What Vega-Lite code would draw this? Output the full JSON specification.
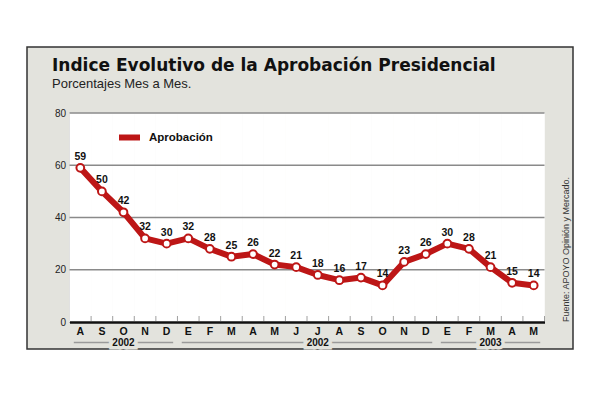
{
  "$schema": "https://vega.github.io/schema/vega-lite/v6.json",
  "width": 546,
  "height": 302,
  "autosize": {"type": "none"},
  "padding": {"left": 27, "top": 47, "right": 27, "bottom": 50},
  "background": "white",
  "config": {
    "view": {"fill": "#e3e3dd", "stroke": "#333333", "strokeWidth": 1.5}
  },
  "title": {
    "text": "Indice Evolutivo de la Aprobación Presidencial",
    "subtitle": "Porcentajes Mes a Mes.",
    "anchor": "start",
    "frame": "group",
    "offset": -45,
    "dx": 25,
    "font": "DejaVu Sans",
    "fontSize": 17,
    "fontWeight": "bold",
    "color": "#111111",
    "subtitleFont": "Liberation Sans",
    "subtitleFontSize": 13,
    "subtitleColor": "#222222",
    "subtitlePadding": 3
  },
  "datasets": {
    "aprobacion": [
      {"periodo": "2001-08", "valor": 59, "serie": "Aprobación"},
      {"periodo": "2001-09", "valor": 50, "serie": "Aprobación"},
      {"periodo": "2001-10", "valor": 42, "serie": "Aprobación"},
      {"periodo": "2001-11", "valor": 32, "serie": "Aprobación"},
      {"periodo": "2001-12", "valor": 30, "serie": "Aprobación"},
      {"periodo": "2002-01", "valor": 32, "serie": "Aprobación"},
      {"periodo": "2002-02", "valor": 28, "serie": "Aprobación"},
      {"periodo": "2002-03", "valor": 25, "serie": "Aprobación"},
      {"periodo": "2002-04", "valor": 26, "serie": "Aprobación"},
      {"periodo": "2002-05", "valor": 22, "serie": "Aprobación"},
      {"periodo": "2002-06", "valor": 21, "serie": "Aprobación"},
      {"periodo": "2002-07", "valor": 18, "serie": "Aprobación"},
      {"periodo": "2002-08", "valor": 16, "serie": "Aprobación"},
      {"periodo": "2002-09", "valor": 17, "serie": "Aprobación"},
      {"periodo": "2002-10", "valor": 14, "serie": "Aprobación"},
      {"periodo": "2002-11", "valor": 23, "serie": "Aprobación"},
      {"periodo": "2002-12", "valor": 26, "serie": "Aprobación"},
      {"periodo": "2003-01", "valor": 30, "serie": "Aprobación"},
      {"periodo": "2003-02", "valor": 28, "serie": "Aprobación"},
      {"periodo": "2003-03", "valor": 21, "serie": "Aprobación"},
      {"periodo": "2003-04", "valor": 15, "serie": "Aprobación"},
      {"periodo": "2003-05", "valor": 14, "serie": "Aprobación"}
    ],
    "anios": [
      {"anio": "2002", "desde": "2001-08", "hasta": "2001-12", "centro": "2001-10"},
      {"anio": "2002", "desde": "2002-01", "hasta": "2002-12", "centro": "2002-07"},
      {"anio": "2003", "desde": "2003-01", "hasta": "2003-05", "centro": "2003-03"}
    ],
    "cuadricula": [{"g": 20}, {"g": 40}, {"g": 60}, {"g": 80}],
    "fuente": [{"texto": "Fuente: APOYO Opinión y Mercado."}]
  },
  "layer": [
    {
      "data": {"name": "aprobacion"},
      "mark": {"type": "rect", "fill": "white", "stroke": "white", "strokeWidth": 0.6},
      "encoding": {
        "x": {"field": "periodo", "type": "ordinal",
              "scale": {"type": "band", "range": [42.5, 517.5], "paddingInner": 0, "paddingOuter": 0},
              "axis": {"orient": "bottom", "offset": -27, "title": null,
                       "labelExpr": "slice('EFMAMJJASOND', toNumber(slice(datum.value, 5)) - 1, toNumber(slice(datum.value, 5)))",
                       "labelFont": "Liberation Sans", "labelFontSize": 10.5, "labelFontWeight": "bold",
                       "labelColor": "#111111", "labelAngle": 0, "labelPadding": 4,
                       "ticks": false, "domainColor": "#111111", "domainWidth": 2.5}},
        "y": {"datum": 0, "type": "quantitative",
              "scale": {"domain": [0, 80], "range": [275, 66], "nice": false, "zero": false},
              "axis": {"orient": "left", "offset": -42.5, "title": null, "values": [0, 20, 40, 60, 80],
                       "grid": false, "ticks": false, "labelPadding": 4,
                       "labelFont": "Liberation Sans", "labelFontSize": 10, "labelColor": "#222222",
                       "domainColor": "#444444", "domainWidth": 1.5}},
        "y2": {"datum": 80}
      }
    },
    {
      "data": {"name": "cuadricula"},
      "mark": {"type": "rule", "color": "#8a8a8a", "strokeWidth": 1.5, "xOffset": -10.8, "x2Offset": 10.8},
      "encoding": {
        "x": {"datum": "2001-08", "type": "ordinal"},
        "x2": {"datum": "2003-05"},
        "y": {"field": "g", "type": "quantitative"}
      }
    },
    {
      "data": {"name": "aprobacion"},
      "mark": {"type": "tick", "orient": "vertical", "color": "#777777", "thickness": 1, "size": 5, "xOffset": 10.8, "yOffset": -3.5},
      "encoding": {
        "x": {"field": "periodo", "type": "ordinal"},
        "y": {"datum": 0, "type": "quantitative"}
      }
    },
    {
      "data": {"name": "anios"},
      "mark": {"type": "rule", "color": "#9a9a9a", "strokeWidth": 1.5, "xOffset": -6.5, "x2Offset": 6.5, "yOffset": 20.5},
      "encoding": {
        "x": {"field": "desde", "type": "ordinal"},
        "x2": {"field": "hasta"},
        "y": {"datum": 0, "type": "quantitative"}
      }
    },
    {
      "data": {"name": "anios"},
      "mark": {"type": "text", "font": "Liberation Sans", "fontSize": 10, "fontWeight": "bold", "stroke": "#e3e3dd", "strokeWidth": 7, "fill": "#e3e3dd", "baseline": "middle", "yOffset": 20.5},
      "encoding": {
        "x": {"field": "centro", "type": "ordinal"},
        "y": {"datum": 0, "type": "quantitative"},
        "text": {"field": "anio"}
      }
    },
    {
      "data": {"name": "anios"},
      "mark": {"type": "text", "font": "Liberation Sans", "fontSize": 10, "fontWeight": "bold", "color": "#111111", "baseline": "middle", "yOffset": 20.5},
      "encoding": {
        "x": {"field": "centro", "type": "ordinal"},
        "y": {"datum": 0, "type": "quantitative"},
        "text": {"field": "anio"}
      }
    },
    {
      "data": {"name": "fuente"},
      "mark": {"type": "text", "font": "Liberation Sans", "fontSize": 9, "color": "#333333", "angle": 270, "align": "left", "baseline": "middle", "xOffset": 32},
      "encoding": {
        "x": {"datum": "2003-05", "type": "ordinal"},
        "y": {"datum": 0, "type": "quantitative"},
        "text": {"field": "texto"}
      }
    },
    {
      "data": {"name": "aprobacion"},
      "mark": {"type": "line", "strokeWidth": 6, "strokeJoin": "round", "strokeCap": "round"},
      "encoding": {
        "x": {"field": "periodo", "type": "ordinal"},
        "y": {"field": "valor", "type": "quantitative"},
        "color": {"field": "serie", "type": "nominal",
                  "scale": {"range": ["#bd1616"]},
                  "legend": {"orient": "none", "legendX": 89, "legendY": 77, "title": null,
                             "symbolType": "stroke", "symbolStrokeWidth": 6, "symbolSize": 441,
                             "labelFont": "Liberation Sans", "labelFontSize": 11.5, "labelFontWeight": "bold",
                             "labelColor": "#111111", "padding": 0, "labelOffset": 6}}
      }
    },
    {
      "data": {"name": "aprobacion"},
      "mark": {"type": "point", "filled": true, "fill": "white", "stroke": "#bd1616", "strokeWidth": 2, "size": 60, "opacity": 1},
      "encoding": {
        "x": {"field": "periodo", "type": "ordinal"},
        "y": {"field": "valor", "type": "quantitative"}
      }
    },
    {
      "data": {"name": "aprobacion"},
      "mark": {"type": "text", "font": "Liberation Sans", "fontSize": 10.5, "fontWeight": "bold", "color": "#111111", "baseline": "middle", "dy": -11},
      "encoding": {
        "x": {"field": "periodo", "type": "ordinal"},
        "y": {"field": "valor", "type": "quantitative"},
        "text": {"field": "valor", "type": "quantitative"}
      }
    }
  ]
}
